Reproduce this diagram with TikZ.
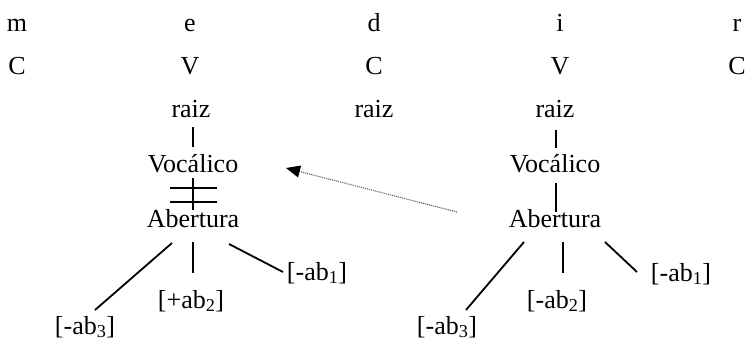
\documentclass[tikz,border=0pt]{standalone}
\usepackage{fontspec}
\setmainfont{Liberation Serif}
\usetikzlibrary{arrows.meta}
\begin{document}
\begin{tikzpicture}[x=1pt,y=-1pt,
  lbl/.style={inner sep=0pt,anchor=base,font=\fontsize{26}{31}\selectfont},
  edge/.style={line width=1.8pt,black},
  dotarrow/.style={line width=1.1pt,gray!70!black,dash pattern=on 1pt off 1pt,-{Triangle[length=14pt,width=12pt,black]}}]
\useasboundingbox (0,0) rectangle (748,340);
% segments
\node[lbl] (m) at (17,31) {m};
\node[lbl] (e) at (190,31) {e};
\node[lbl] (d) at (374,31) {d};
\node[lbl] (i) at (560,31) {i};
\node[lbl] (r) at (737,31) {r};
\node[lbl] (c1) at (17,74) {C};
\node[lbl] (v1) at (190,74) {V};
\node[lbl] (c2) at (374,74) {C};
\node[lbl] (v2) at (560,74) {V};
\node[lbl] (c3) at (737,74) {C};
% left tree
\node[lbl] (raizL) at (191,117) {raiz};
\node[lbl] (vocL) at (193,172) {Vocálico};
\node[lbl] (abL) at (193,227) {Abertura};
\node[lbl] (ab3L) at (85,334) {[-ab\textsubscript{3}]};
\node[lbl] (ab2L) at (191,308) {[+ab\textsubscript{2}]};
\node[lbl] (ab1L) at (317,280) {[-ab\textsubscript{1}]};
% middle
\node[lbl] (raizM) at (374,117) {raiz};
% right tree
\node[lbl] (raizR) at (555,117) {raiz};
\node[lbl] (vocR) at (555,172) {Vocálico};
\node[lbl] (abR) at (555,227) {Abertura};
\node[lbl] (ab3R) at (447,334) {[-ab\textsubscript{3}]};
\node[lbl] (ab2R) at (557,308) {[-ab\textsubscript{2}]};
\node[lbl] (ab1R) at (681,281) {[-ab\textsubscript{1}]};
% left connectors
\draw[edge] ([shift={(2,10)}]raizL.base) -- ([shift={(0,-25)}]vocL.base);
\draw[edge] ([shift={(0,6)}]vocL.base) -- ([shift={(0,-17)}]abL.base);
\draw[edge] ([shift={(-23,16)}]vocL.base) -- ++(47,0);
\draw[edge] ([shift={(-23,30)}]vocL.base) -- ++(47,0);
\draw[edge] ([shift={(-21,16)}]abL.base) -- ([shift={(10,-24)}]ab3L.base);
\draw[edge] ([shift={(0,15)}]abL.base) -- ([shift={(2,-35)}]ab2L.base);
\draw[edge] ([shift={(36,17)}]abL.base) -- ([shift={(-34,-8)}]ab1L.base);
% right connectors
\draw[edge] ([shift={(1,13)}]raizR.base) -- ([shift={(1,-24)}]vocR.base);
\draw[edge] ([shift={(1,11)}]vocR.base) -- ([shift={(1,-15)}]abR.base);
\draw[edge] ([shift={(-31,15)}]abR.base) -- ([shift={(19,-24)}]ab3R.base);
\draw[edge] ([shift={(8,15)}]abR.base) -- ([shift={(6,-35)}]ab2R.base);
\draw[edge] ([shift={(50,15)}]abR.base) -- ([shift={(-44,-9)}]ab1R.base);
% dotted arrow
\draw[dotarrow] ([shift={(-98,-15)}]abR.base) -- ([shift={(93,-4)}]vocL.base);
\end{tikzpicture}
\end{document}
